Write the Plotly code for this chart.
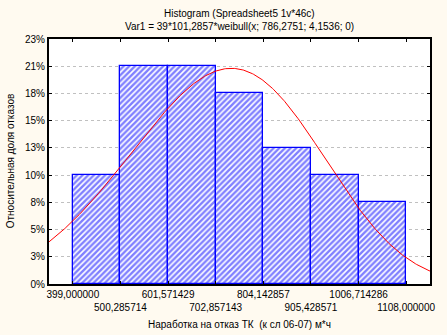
import numpy as np
import plotly.graph_objects as go

# ---- data ----
bin_edges = [399.000000, 500.285714, 601.571429, 702.857143, 804.142857, 905.428571, 1006.714286, 1108.000000]
counts = [4, 8, 8, 7, 5, 4, 3]
n_total = 39
edge_labels = ["399,000000", "500,285714", "601,571429", "702,857143", "804,142857",
               "905,428571", "1006,714286", "1108,000000"]
y_tick_labels = ["0%", "3%", "5%", "8%", "10%", "13%", "15%", "18%", "21%", "23%"]
# fitted Weibull parameters (from the chart subtitle)
weib_scale = 786.2751
weib_shape = 4.1536
bin_width = 101.2857

title1 = "Histogram (Spreadsheet5 1v*46c)"
title2 = "Var1 = 39*101,2857*weibull(x; 786,2751; 4,1536; 0)"
x_title = "Наработка на отказ ТК  (к сл 06-07) м*ч"
y_title = "Относительная доля отказов"

# ---- derived ----
centers = [(bin_edges[i] + bin_edges[i + 1]) / 2 for i in range(len(counts))]
props = [c / n_total for c in counts]
x_lo = bin_edges[0] - bin_width / 2
x_hi = bin_edges[-1] + bin_width / 2
y_ticks = [k / n_total for k in range(len(y_tick_labels))]

xc = np.linspace(x_lo, x_hi, 400)
z = xc / weib_scale
pdf = (weib_shape / weib_scale) * z ** (weib_shape - 1) * np.exp(-z ** weib_shape)
yc = bin_width * pdf

font = "Liberation Sans, Arial, sans-serif"
xtext = [lab if i % 2 == 0 else "<br>" + lab for i, lab in enumerate(edge_labels)]

fig = go.Figure()
fig.add_trace(go.Bar(
    x=centers, y=props, width=bin_width,
    marker=dict(color="white", line=dict(color="#0000FF", width=1.3),
                pattern=dict(shape="/", fgcolor="#0000FF", bgcolor="white",
                             size=4, solidity=0.6)),
    hoverinfo="skip"))
fig.add_trace(go.Scatter(x=xc, y=yc, mode="lines",
                         line=dict(color="#FF0000", width=1), hoverinfo="skip"))

fig.update_layout(
    width=447, height=335,
    margin=dict(l=49, r=14, t=39, b=51),
    paper_bgcolor="#FFFAF0", plot_bgcolor="white",
    showlegend=False, bargap=0,
    font=dict(family=font, size=10, color="black"),
    xaxis=dict(range=[x_lo, x_hi], tickmode="array", tickvals=bin_edges, ticktext=xtext,
               tickangle=0, ticks="inside", ticklen=3, tickcolor="black", mirror="ticks",
               showline=True, linecolor="black", linewidth=2, showgrid=False,
               zeroline=False, tickfont=dict(size=10)),
    yaxis=dict(range=[0, y_ticks[-1]], tickmode="array", tickvals=y_ticks, ticktext=y_tick_labels,
               ticks="inside", ticklen=3, tickcolor="black", mirror="ticks",
               showline=True, linecolor="black", linewidth=2,
               showgrid=True, gridcolor="#C0C0C0", griddash="dot", gridwidth=1,
               zeroline=False, tickfont=dict(size=10)),
    annotations=[
        dict(text=title1, x=0.5, y=13, xref="paper", yref="paper", showarrow=False,
             font=dict(size=10)),
        dict(text=title2, x=0.5, y=26, xref="paper", yref="paper", showarrow=False,
             font=dict(size=10)),
        dict(text=x_title, x=0.5, y=324, xref="paper", yref="paper", showarrow=False,
             font=dict(size=10)),
        dict(text=y_title, x=10, y=161, xref="paper", yref="paper", showarrow=False,
             textangle=-90, font=dict(size=10)),
    ],
)

# convert pixel positions for annotations to paper coords
plot_l, plot_r, plot_t, plot_b = 49, 433, 39, 284
anns = []
for a in fig.layout.annotations:
    a = a.to_plotly_json()
    if a["text"] == y_title:
        a["x"] = (a["x"] - plot_l) / (plot_r - plot_l)
    a["y"] = (plot_b - a["y"]) / (plot_b - plot_t)
    a["xanchor"] = "center"
    a["yanchor"] = "middle"
    anns.append(a)
fig.update_layout(annotations=anns)

fig.write_html("out.html")
